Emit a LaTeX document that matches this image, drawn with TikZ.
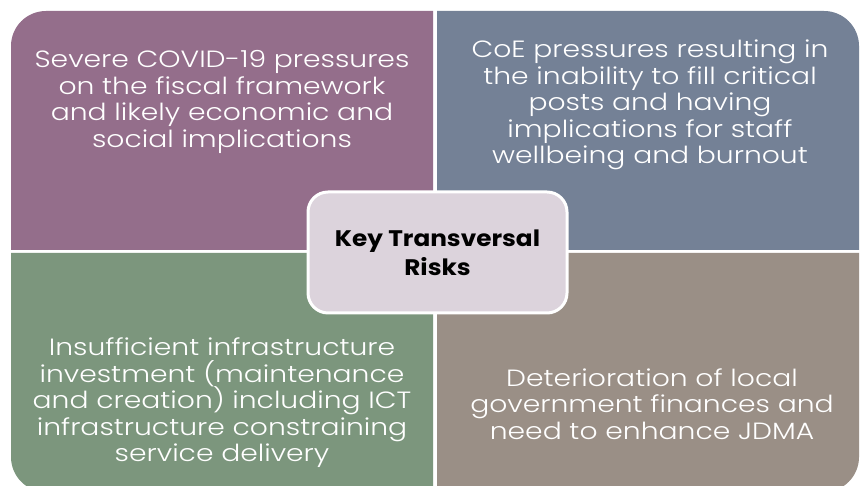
\documentclass[tikz,border=0pt]{standalone}
\usepackage{fontspec}
\setmainfont{Poppins}
\newfontfamily\widefont[FakeStretch=1.2]{Poppins Light}
\newfontfamily\keyfont[FakeStretch=1.1]{Poppins}
\definecolor{qtl}{HTML}{946E8B}
\definecolor{qtr}{HTML}{748196}
\definecolor{qbl}{HTML}{7C967D}
\definecolor{qbr}{HTML}{9A8F86}
\definecolor{ctr}{HTML}{DCD3DC}
\tikzset{
  qtext/.style={text=white, align=center, font=\widefont\fontsize{23.5}{26.5}\selectfont, inner sep=0pt},
  keybox/.style={draw=white, line width=3pt, fill=ctr, rounded corners=20pt, minimum width=259pt, minimum height=121pt, align=center, font=\keyfont\bfseries\fontsize{22.5}{29}\selectfont, text=black}
}
\begin{document}
\begin{tikzpicture}[x=1pt,y=1pt]
\useasboundingbox (0,0) rectangle (861,486);
\clip (0,0) rectangle (861,486);
\fill[white] (0,0) rectangle (861,486);
% quadrants
\fill[qtl] (11,236) -- (11,440) arc[start angle=180,end angle=90,radius=35] -- (433,475) -- (433,236) -- cycle;
\fill[qtr] (437,236) -- (437,475) -- (824,475) arc[start angle=90,end angle=0,radius=35] -- (859,236) -- cycle;
\fill[qbl] (11,233) -- (433,233) -- (433,-6) -- (46,-6) arc[start angle=270,end angle=180,radius=35] -- cycle;
\fill[qbr] (437,233) -- (859,233) -- (859,29) arc[start angle=0,end angle=-90,radius=35] -- (437,-6) -- cycle;
% texts
\node[qtext] (tl) at (222,384) {Severe COVID-19 pressures\\on the fiscal framework\\and likely economic and\\social implications};
\node[qtext] (tr) at (650,381) {CoE pressures resulting in\\the inability to fill critical\\posts and having\\implications for staff\\wellbeing and burnout};
\node[qtext] (bl) at (222,83) {Insufficient infrastructure\\investment (maintenance\\and creation) including ICT\\infrastructure constraining\\service delivery};
\node[qtext] (br) at (652,82) {Deterioration of local\\government finances and\\need to enhance JDMA};
% centre
\node[keybox] (key) at (437.5,233.5) {Key Transversal\\Risks};
\end{tikzpicture}
\end{document}
